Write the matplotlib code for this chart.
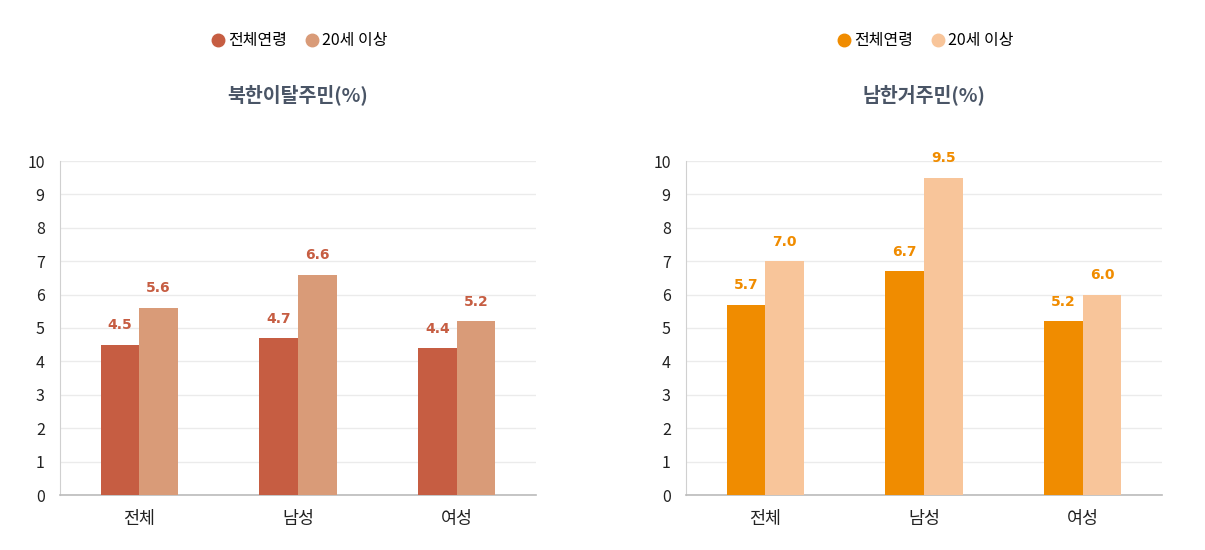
import matplotlib
matplotlib.use("Agg")
import matplotlib.pyplot as plt
from matplotlib.lines import Line2D

plt.rcParams['font.family'] = ['Noto Sans CJK KR', 'DejaVu Sans']

categories = ["전체", "남성", "여성"]
series_names = ["전체연령", "20세 이상"]

north_all = [4.5, 4.7, 4.4]
north_20 = [5.6, 6.6, 5.2]
south_all = [5.7, 6.7, 5.2]
south_20 = [7.0, 9.5, 6.0]

panels = [
    ("북한이탈주민(%)", north_all, north_20, "#C65D42", "#D99B78"),
    ("남한거주민(%)", south_all, south_20, "#F08C00", "#F8C59A"),
]

fig = plt.figure(figsize=(12.05, 5.5), dpi=100)
lefts = [60 / 1205, 686 / 1205]
width = 476 / 1205
bottom = 55 / 550
height = 334 / 550
bw = 0.243

for left, (title, s1, s2, c1, c2) in zip(lefts, panels):
    ax = fig.add_axes([left, bottom, width, height])
    x = list(range(len(categories)))
    b1 = ax.bar([i - bw / 2 for i in x], s1, width=bw, color=c1, zorder=3)
    b2 = ax.bar([i + bw / 2 for i in x], s2, width=bw, color=c2, zorder=3)
    for bars, vals in ((b1, s1), (b2, s2)):
        for rect, v in zip(bars, vals):
            ax.annotate(f"{v:.1f}", (rect.get_x() + rect.get_width() / 2, v),
                        xytext=(0, 9), textcoords="offset points",
                        ha="center", va="bottom", fontsize=10, fontweight="bold",
                        color=c1, family=['DejaVu Sans'])
    ax.set_xlim(-0.5, 2.5)
    ax.set_ylim(0, 10)
    ax.set_yticks(range(0, 11))
    ax.set_xticks(x)
    ax.set_xticklabels(categories, fontsize=12.5, color="#222222")
    ax.tick_params(axis="y", length=0, pad=11, labelsize=11.5, labelcolor="#222222")
    ax.tick_params(axis="x", length=0, pad=11)
    ax.grid(axis="y", color="#EBEBEB", linewidth=1, zorder=0)
    for s in ("top", "right"):
        ax.spines[s].set_visible(False)
    ax.spines["left"].set_color("#D0D0D0")
    ax.spines["bottom"].set_color("#BBBBBB")
    ax.spines["bottom"].set_linewidth(1.2)
    ax.text(0.5, 1.198, title, transform=ax.transAxes, ha="center", va="center",
            fontsize=14, fontweight="bold", color="#4A5566")
    handles = [Line2D([], [], marker="o", linestyle="", markersize=9, color=c)
               for c in (c1, c2)]
    ax.legend(handles, series_names, loc="center", bbox_to_anchor=(0.5, 1.36),
              ncol=2, frameon=False, fontsize=11.5, handletextpad=0.05,
              columnspacing=0.9, handlelength=1.2)

plt.savefig("out.png", dpi=100)
